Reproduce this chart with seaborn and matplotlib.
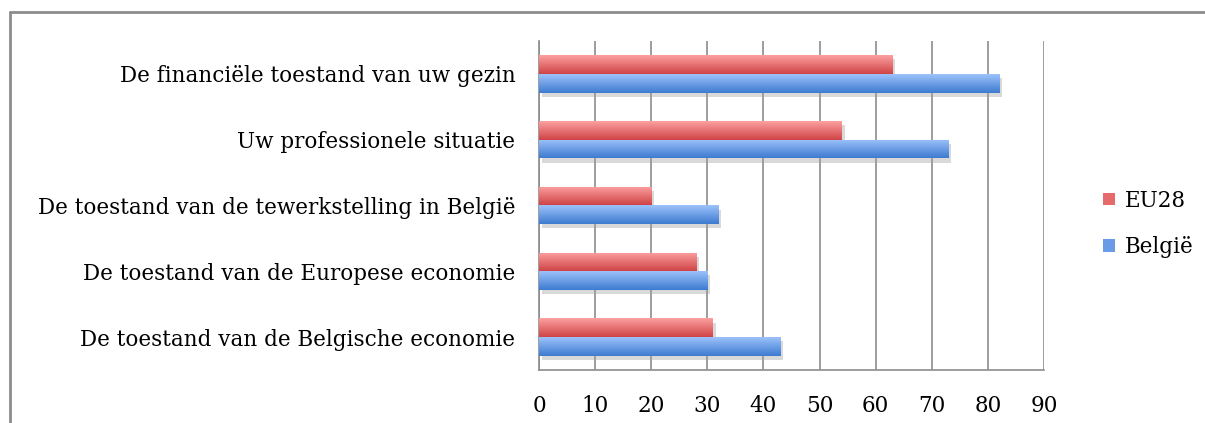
import numpy as np
import pandas as pd
import matplotlib
matplotlib.use("Agg")
import matplotlib.pyplot as plt
import seaborn as sns
from matplotlib.colors import LinearSegmentedColormap
from matplotlib.patches import Patch
from matplotlib.lines import Line2D
import matplotlib.patheffects as pe

categories = [
    "De financiële toestand van uw gezin",
    "Uw professionele situatie",
    "De toestand van de tewerkstelling in België",
    "De toestand van de Europese economie",
    "De toestand van de Belgische economie",
]
eu28 = [63, 54, 20, 28, 31]
belgie = [82, 73, 32, 30, 43]
series = ["EU28", "België"]
xticks = [0, 10, 20, 30, 40, 50, 60, 70, 80, 90]

df = pd.DataFrame({
    "vraag": categories * 2,
    "reeks": ["EU28"] * len(categories) + ["België"] * len(categories),
    "waarde": eu28 + belgie,
})

sns.set_style("white")
plt.rcParams["font.family"] = ["DejaVu Serif", "Liberation Serif"]
plt.rcParams["text.color"] = "black"
plt.rcParams["xtick.labelcolor"] = "black"
plt.rcParams["ytick.labelcolor"] = "black"

grad_colors = {
    "EU28": ("#fda0a0", "#cf4446"),
    "België": ("#9cc2fb", "#3e7bd0"),
}
mid_colors = {"EU28": "#e46a6b", "België": "#6a9be6"}

fig = plt.figure(figsize=(12.05, 4.23), dpi=100)
ax = fig.add_axes([539 / 1205, 53 / 423, 505 / 1205, 329 / 423])

sns.barplot(data=df, y="vraag", x="waarde", hue="reeks", hue_order=series,
            order=categories, orient="h", width=0.57, palette=mid_colors,
            legend=False, ax=ax, zorder=3)

# Excel-like vertical gradient inside each bar
grad = np.linspace(0, 1, 64).reshape(-1, 1)
n = len(categories)
for i, p in enumerate(ax.patches):
    name = series[i // n]
    cmap = LinearSegmentedColormap.from_list(name, list(grad_colors[name]))
    x0, y0 = p.get_x(), p.get_y()
    w, h = p.get_width(), p.get_height()
    p.set_facecolor("white")
    p.set_edgecolor("none")
    p.set_path_effects([pe.SimplePatchShadow(offset=(2, -3), shadow_rgbFace="#a0a0a0", alpha=0.4),
                        pe.Normal()])
    im = ax.imshow(grad, extent=[x0, x0 + w, y0 + h, y0], aspect="auto",
                   cmap=cmap, zorder=4, interpolation="bilinear")
    im.set_clip_path(p)

ax.set_xlim(0, 90)
ax.set_ylim(n - 0.5, -0.5)
ax.set_xticks(xticks)
ax.set_xticklabels([str(t) for t in xticks], fontsize=15.5)
ax.set_yticks(range(n))
ax.set_yticklabels(categories, fontsize=15.5)
ax.set_yticks(np.arange(-0.5, n, 1.0), minor=True)
ax.tick_params(axis="y", which="major", length=0, pad=17)
ax.tick_params(axis="y", which="minor", length=9, color="#8c8c8c", width=1.2, direction="out")
ax.tick_params(axis="x", length=8, color="#8c8c8c", width=1.2, direction="out", pad=10)
ax.set_xlabel("")
ax.set_ylabel("")

ax.grid(axis="x", color="#8c8c8c", linewidth=1.2, zorder=0)
ax.set_axisbelow(True)
for s in ["top", "right"]:
    ax.spines[s].set_visible(False)
for s in ["left", "bottom"]:
    ax.spines[s].set_color("#8c8c8c")
    ax.spines[s].set_linewidth(1.2)

handles = [Patch(facecolor=mid_colors[s], edgecolor="none") for s in series]
fig.legend(handles, series, loc="center left", bbox_to_anchor=(1084 / 1205, 1 - 224 / 423),
           frameon=False, fontsize=15.5, handlelength=0.55, handleheight=0.55,
           handletextpad=0.45, labelspacing=1.15)

# outer chart frame: only left and top edges are visible
top_y = 1 - 12 / 423
left_x = 10 / 1205
fig.add_artist(Line2D([left_x, left_x], [0, top_y], transform=fig.transFigure,
                      color="#8c8c8c", linewidth=2))
fig.add_artist(Line2D([left_x, 1], [top_y, top_y], transform=fig.transFigure,
                      color="#8c8c8c", linewidth=2))

fig.savefig("out.png", dpi=100)
